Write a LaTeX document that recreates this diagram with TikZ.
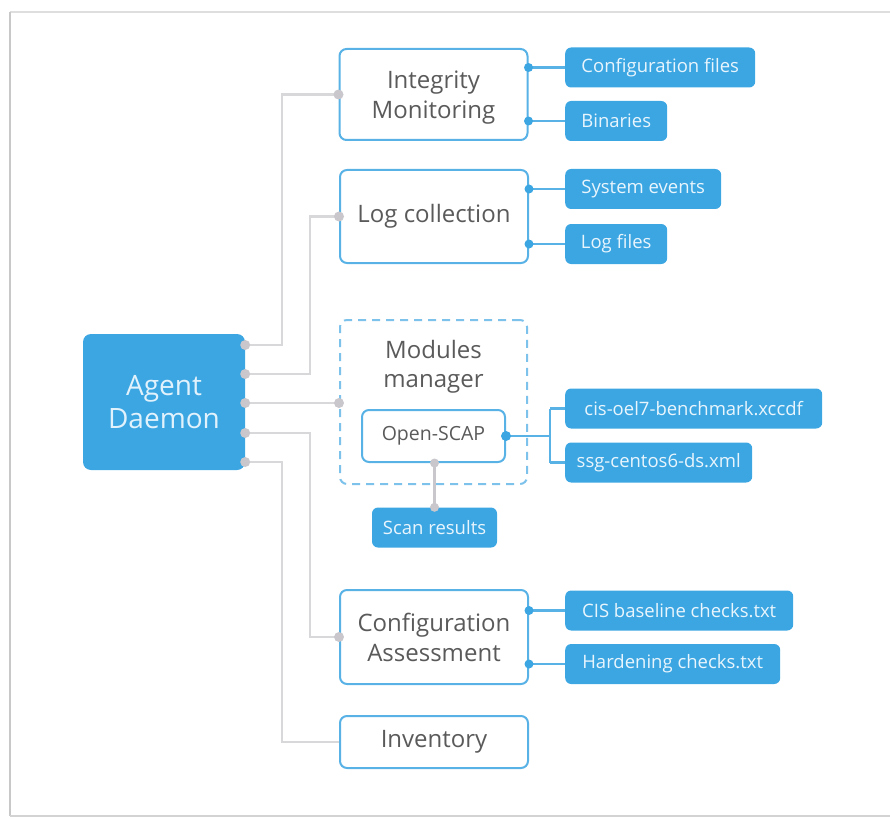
\documentclass[tikz,border=0pt]{standalone}
\usepackage{fontspec}
\setmainfont{Open Sans}
\usetikzlibrary{calc}

\definecolor{wblue}{HTML}{3BA6E2}
\definecolor{oblue}{HTML}{58B2E6}
\definecolor{dblue}{HTML}{7DC2EA}
\definecolor{lgray}{HTML}{D8D8DA}
\definecolor{dgray}{HTML}{C9C7CC}
\definecolor{tgray}{HTML}{5A5A5A}
\definecolor{ltext}{HTML}{E9F5FD}
\definecolor{agtext}{HTML}{E2F2FC}
\definecolor{framec}{HTML}{C8C8C8}

\tikzset{
  agentbox/.style={fill=wblue, rounded corners=8pt, inner sep=0pt,
    minimum width=162pt, minimum height=136pt, align=center, text=agtext,
    font=\fontsize{28}{33}\selectfont},
  groupbox/.style={draw=oblue, line width=2pt, fill=white, rounded corners=7pt,
    inner sep=0pt, minimum width=188pt, text=tgray, align=center,
    font=\fontsize{24}{30}\selectfont},
  grouptext/.style={text=tgray, align=center, inner sep=0pt,
    font=\fontsize{24}{29.5}\selectfont},
  dashbox/.style={draw=dblue, line width=2pt, dash pattern=on 8pt off 6pt,
    rounded corners=7pt, minimum width=187pt, minimum height=164pt, inner sep=0pt},
  subbox/.style={draw=oblue, line width=2pt, fill=white, rounded corners=7pt,
    inner sep=0pt, minimum width=143pt, minimum height=52pt, text=tgray,
    font=\fontsize{19.5}{22}\selectfont},
  leaf/.style={fill=wblue, rounded corners=6pt, inner sep=0pt, anchor=west,
    minimum height=40pt, text=ltext, font=\fontsize{18.5}{20}\selectfont},
  gline/.style={draw=lgray, line width=2.5pt},
  bline/.style={draw=oblue, line width=2.5pt},
  pline/.style={draw=dgray, line width=2.5pt},
  gdot/.style={fill=dgray},
  bdot/.style={fill=wblue},
}

\begin{document}
\begin{tikzpicture}[x=1pt, y=-1pt]
\useasboundingbox (0,0) rectangle (890,818);

% page frame
\draw[framec!60, line width=1.2pt] (10,12) -- (890,12);
\draw[framec, line width=2pt] (10,12) -- (10,816);
\draw[framec!80, line width=1.5pt] (10,816) -- (890,816);

% main agent block
\node[agentbox] (agent) at (164,402) {Agent\\Daemon};

% module blocks
\node[groupbox, minimum height=91pt] (im) at (433.5,94.5) {};
\node[grouptext] (imlabel) at (433.5,97.5) {Integrity\\Monitoring};
\node[groupbox, minimum height=93pt] (lc) at (434,216.5) {Log collection};
\node[dashbox] (mm) at (433.5,402) {};
\node[grouptext] (mmlabel) at (433.5,367) {Modules\\manager};
\node[subbox] (oscap) at (433.5,436) {Open-SCAP};
\node[groupbox, minimum height=94pt] (ca) at (434,637) {Configuration\\Assessment};
\node[groupbox, minimum height=52pt] (inv) at (434,742) {Inventory};

% leaf items
\node[leaf, minimum width=190pt] (cfg) at (565,67.5) {Configuration files};
\node[leaf, minimum width=102pt] (bin) at (565,121) {Binaries};
\node[leaf, minimum width=156pt] (sys) at (565,189) {System events};
\node[leaf, minimum width=102pt] (logf) at (565,244) {Log files};
\node[leaf, minimum width=257pt] (cis) at (565,408.5) {cis-oel7-benchmark.xccdf};
\node[leaf, minimum width=187pt] (ssg) at (565,462.5) {ssg-centos6-ds.xml};
\node[leaf, minimum width=125pt, anchor=center] (scan) at (434.5,527.5) {Scan results};
\node[leaf, minimum width=228pt] (cisb) at (565,610.5) {CIS baseline checks.txt};
\node[leaf, minimum width=215pt] (hard) at (565,664) {Hardening checks.txt};

% agent output ports
\coordinate (p1) at (agent.east |- 0,345);
\coordinate (p2) at (agent.east |- 0,374);
\coordinate (p3) at (agent.east |- 0,403);
\coordinate (p4) at (agent.east |- 0,433);
\coordinate (p5) at (agent.east |- 0,462);
\coordinate (mmin) at (mm.west |- p3);

% agent to modules
\draw[gline] (p1) -- (282,345) |- (im.west);
\draw[gline] (p2) -- (310,374) |- (lc.west);
\draw[gline] (p3) -- (mmin);
\draw[gline] (p4) -- (310,433) |- (ca.west);
\draw[gline] (p5) -- (282,462) |- (inv.west);

\foreach \p in {p1,p2,p3,p4,p5} \fill[gdot] (\p) circle (5pt);
\fill[gdot] (im.west) circle (5pt);
\fill[gdot] (lc.west) circle (5pt);
\fill[gdot] (mmin) circle (5pt);
\fill[gdot] (ca.west) circle (5pt);

% module to leaf links
\foreach \m/\l in {im/cfg, im/bin, lc/sys, lc/logf, ca/cisb, ca/hard} {
  \draw[bline] (\m.east |- \l.west) -- (\l.west);
  \fill[bdot] (\m.east |- \l.west) circle (4.5pt);
}

% Open-SCAP branches
\coordinate (fork) at (550,436);
\draw[bline] (oscap.east) -- (fork);
\draw[bline] (fork |- cis.west) -- (fork |- ssg.west);
\draw[bline] (fork |- cis.west) -- (cis.west);
\draw[bline] (fork |- ssg.west) -- (ssg.west);
\fill[bdot] (oscap.east) circle (5pt);

\draw[pline] (oscap.south -| scan.north) -- (scan.north);
\fill[gdot] (oscap.south -| scan.north) circle (4.5pt);
\fill[gdot] (scan.north) circle (4.5pt);
\end{tikzpicture}
\end{document}
